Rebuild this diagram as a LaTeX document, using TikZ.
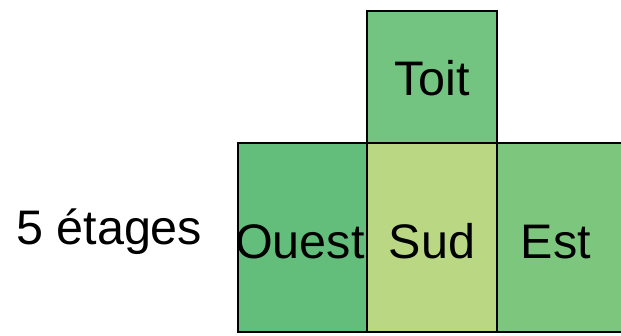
\documentclass[tikz,border=0pt]{standalone}
\usepackage{fontspec}
\setmainfont{Liberation Sans}
\definecolor{toitc}{RGB}{114,196,128}
\definecolor{ouestc}{RGB}{98,190,122}
\definecolor{sudc}{RGB}{186,216,131}
\definecolor{estc}{RGB}{124,198,126}
\begin{document}
\begin{tikzpicture}[x=1pt,y=-1pt,
  facebox/.style={draw=black,line width=1.8pt,inner sep=0pt,outer sep=0pt,anchor=north west},
  lbl/.style={font=\fontsize{48.5}{48.5}\selectfont,inner sep=0pt,anchor=base,text=black}]
\useasboundingbox (0,0) rectangle (621,335);
\clip (0,0) rectangle (621,335);
\node[facebox,fill=toitc,minimum width=130pt,minimum height=132pt] (toit) at (367,11) {};
\node[facebox,fill=ouestc,minimum width=129pt,minimum height=189pt] (ouest) at (238,143) {};
\node[facebox,fill=sudc,minimum width=130pt,minimum height=189pt] (sud) at (367,143) {};
\node[facebox,fill=estc,minimum width=130pt,minimum height=189pt] (est) at (497,143) {};
\node[lbl] (tToit) at (432,95) {Toit};
\node[lbl,anchor=base west] (tOuest) at (235,258) {Ouest};
\node[lbl] (tSud) at (432,258) {Sud};
\node[lbl] (tEst) at (556,258) {Est};
\node[lbl,anchor=base west] (tEtages) at (16,244) {5 étages};
\end{tikzpicture}
\end{document}
